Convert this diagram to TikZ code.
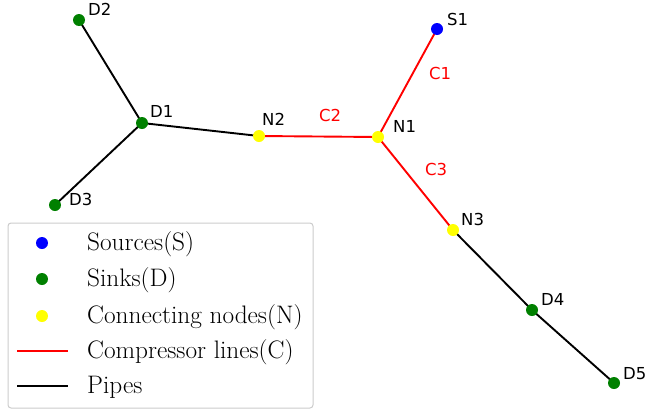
\documentclass[tikz,border=0pt]{standalone}
\usepackage{fontspec}
\newfontfamily\dv{DejaVu Sans}
\definecolor{mgreen}{RGB}{0,128,0}
\definecolor{myellow}{RGB}{255,255,0}
\definecolor{mblue}{RGB}{0,0,255}
\definecolor{mred}{RGB}{255,0,0}
\definecolor{legframe}{RGB}{204,204,204}
\begin{document}
\begin{tikzpicture}[x=1pt,y=-1pt,
  dot/.style={circle,inner sep=0pt,minimum size=12pt},
  src/.style={dot,fill=mblue},
  sink/.style={dot,fill=mgreen},
  conn/.style={dot,fill=myellow},
  pipe/.style={black,line width=1.9pt},
  comp/.style={mred,line width=1.9pt},
  lbl/.style={anchor=base west,inner sep=0pt,font=\dv\fontsize{16.5}{19}\selectfont},
  clbl/.style={lbl,text=mred},
  legtxt/.style={anchor=base west,inner sep=0pt,font=\fontsize{25.3}{29}\selectfont}]
\useasboundingbox (0,0) rectangle (645,410);
% node positions
\coordinate (pS1) at (437,29);
\coordinate (pN1) at (378,137);
\coordinate (pN2) at (259,136);
\coordinate (pN3) at (453,230);
\coordinate (pD1) at (142,123);
\coordinate (pD2) at (79,20);
\coordinate (pD3) at (55,205);
\coordinate (pD4) at (532,310);
\coordinate (pD5) at (614,383);
% edges
\draw[pipe] (pD1) -- (pD2);
\draw[pipe] (pD1) -- (pD3);
\draw[pipe] (pD1) -- (pN2);
\draw[pipe] (pN3) -- (pD4);
\draw[pipe] (pD4) -- (pD5);
\draw[comp] (pN2) -- (pN1);
\draw[comp] (pS1) -- (pN1);
\draw[comp] (pN1) -- (pN3);
% nodes
\node[src] (S1) at (pS1) {};
\node[conn] (N1) at (pN1) {};
\node[conn] (N2) at (pN2) {};
\node[conn] (N3) at (pN3) {};
\node[sink] (D1) at (pD1) {};
\node[sink] (D2) at (pD2) {};
\node[sink] (D3) at (pD3) {};
\node[sink] (D4) at (pD4) {};
\node[sink] (D5) at (pD5) {};
% labels
\node[lbl] (lS1) at (447,25) {S1};
\node[lbl] (lN1) at (393,132) {N1};
\node[lbl] (lN2) at (262,125) {N2};
\node[lbl] (lN3) at (461,225) {N3};
\node[lbl] (lD1) at (150,117) {D1};
\node[lbl] (lD2) at (88,15) {D2};
\node[lbl] (lD3) at (69,205) {D3};
\node[lbl] (lD4) at (541,305) {D4};
\node[lbl] (lD5) at (623,379) {D5};
\node[clbl] (lC1) at (429,79) {C1};
\node[clbl] (lC2) at (319,121) {C2};
\node[clbl] (lC3) at (425,175) {C3};
% legend
\draw[legframe,line width=1pt,rounded corners=3pt,fill=white,fill opacity=0.8] (8,223) rectangle (313,408);
\node[src] (legS) at (42,243) {};
\node[sink] (legD) at (42,279) {};
\node[conn] (legN) at (42,316) {};
\coordinate (legC1) at (17,351);
\coordinate (legC2) at (68,351);
\coordinate (legP1) at (17,386);
\coordinate (legP2) at (68,386);
\draw[comp] (legC1) -- (legC2);
\draw[pipe] (legP1) -- (legP2);
\node[legtxt] (tS) at (87,250) {Sources(S)};
\node[legtxt] (tD) at (87,286) {Sinks(D)};
\node[legtxt] (tN) at (87,323) {Connecting nodes(N)};
\node[legtxt] (tC) at (87,358) {Compressor lines(C)};
\node[legtxt] (tP) at (87,393) {Pipes};
\end{tikzpicture}
\end{document}
